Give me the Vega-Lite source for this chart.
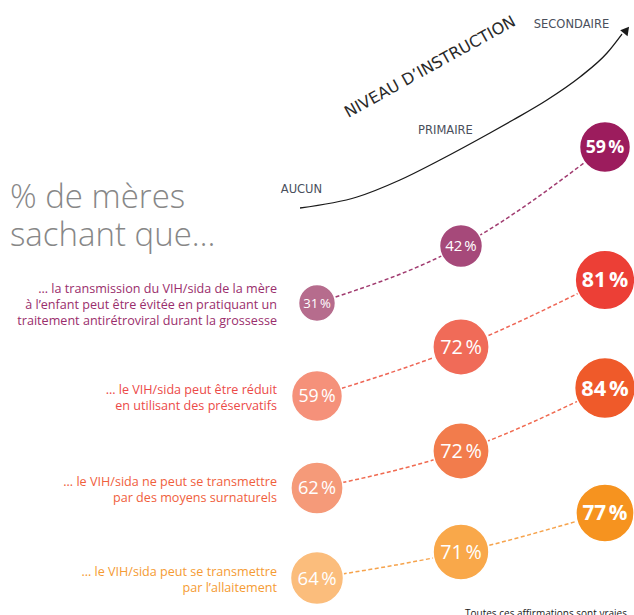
{
  "$schema": "https://vega.github.io/schema/vega-lite/v6.json",
  "width": 634,
  "height": 615,
  "padding": 0,
  "autosize": {"type": "none"},
  "background": "white",
  "config": {"view": {"stroke": null}},
  "datasets": {
    "meres": [
      {"rang": 1, "niveau": "Aucun", "n": 0, "pct": 31, "hauteur": 312, "cle": "1-Aucun", "enonce": "… la transmission du VIH/sida de la mère\nà l’enfant peut être évitée en pratiquant un\ntraitement antirétroviral durant la grossesse"},
      {"rang": 1, "niveau": "Primaire", "n": 1, "pct": 42, "hauteur": 369, "cle": "1-Primaire", "enonce": "… la transmission du VIH/sida de la mère\nà l’enfant peut être évitée en pratiquant un\ntraitement antirétroviral durant la grossesse"},
      {"rang": 1, "niveau": "Secondaire", "n": 2, "pct": 59, "hauteur": 468, "cle": "1-Secondaire", "enonce": "… la transmission du VIH/sida de la mère\nà l’enfant peut être évitée en pratiquant un\ntraitement antirétroviral durant la grossesse"},
      {"rang": 2, "niveau": "Aucun", "n": 0, "pct": 59, "hauteur": 219, "cle": "2-Aucun", "enonce": "… le VIH/sida peut être réduit\nen utilisant des préservatifs"},
      {"rang": 2, "niveau": "Primaire", "n": 1, "pct": 72, "hauteur": 268, "cle": "2-Primaire", "enonce": "… le VIH/sida peut être réduit\nen utilisant des préservatifs"},
      {"rang": 2, "niveau": "Secondaire", "n": 2, "pct": 81, "hauteur": 335, "cle": "2-Secondaire", "enonce": "… le VIH/sida peut être réduit\nen utilisant des préservatifs"},
      {"rang": 3, "niveau": "Aucun", "n": 0, "pct": 62, "hauteur": 127, "cle": "3-Aucun", "enonce": "… le VIH/sida ne peut se transmettre\npar des moyens surnaturels"},
      {"rang": 3, "niveau": "Primaire", "n": 1, "pct": 72, "hauteur": 164, "cle": "3-Primaire", "enonce": "… le VIH/sida ne peut se transmettre\npar des moyens surnaturels"},
      {"rang": 3, "niveau": "Secondaire", "n": 2, "pct": 84, "hauteur": 227, "cle": "3-Secondaire", "enonce": "… le VIH/sida ne peut se transmettre\npar des moyens surnaturels"},
      {"rang": 4, "niveau": "Aucun", "n": 0, "pct": 64, "hauteur": 37, "cle": "4-Aucun", "enonce": "… le VIH/sida peut se transmettre\npar l’allaitement"},
      {"rang": 4, "niveau": "Primaire", "n": 1, "pct": 71, "hauteur": 63, "cle": "4-Primaire", "enonce": "… le VIH/sida peut se transmettre\npar l’allaitement"},
      {"rang": 4, "niveau": "Secondaire", "n": 2, "pct": 77, "hauteur": 102, "cle": "4-Secondaire", "enonce": "… le VIH/sida peut se transmettre\npar l’allaitement"}
    ],
    "fleche": [
      {"ordre": 1, "n": -0.118, "hauteur": 407},
      {"ordre": 2, "n": 0.278, "hauteur": 418},
      {"ordre": 3, "n": 0.576, "hauteur": 435},
      {"ordre": 4, "n": 0.854, "hauteur": 455},
      {"ordre": 5, "n": 1.201, "hauteur": 482},
      {"ordre": 6, "n": 1.361, "hauteur": 495},
      {"ordre": 7, "n": 1.597, "hauteur": 515},
      {"ordre": 8, "n": 1.826, "hauteur": 538},
      {"ordre": 9, "n": 2.014, "hauteur": 562},
      {"ordre": 10, "n": 2.118, "hauteur": 581}
    ]
  },
  "layer": [
    {
      "data": {"name": "fleche"},
      "mark": {"type": "line", "color": "#1a1a1a", "strokeWidth": 1.3, "interpolate": "monotone"},
      "encoding": {
        "x": {"field": "n", "type": "quantitative", "scale": {"domain": [-2.2014, 2.2014], "nice": false, "zero": false}, "axis": null},
        "y": {"field": "hauteur", "type": "quantitative", "scale": {"domain": [0, 615], "nice": false, "zero": false}, "axis": null},
        "order": {"field": "ordre", "type": "quantitative"}
      }
    },
    {
      "data": {"values": [{"fin": "flèche"}]},
      "mark": {"type": "point", "shape": "triangle-up", "filled": true, "color": "#1a1a1a", "size": 90, "angle": 39, "opacity": 1},
      "encoding": {"x": {"datum": 2.149, "type": "quantitative"}, "y": {"datum": 585, "type": "quantitative"}}
    },
    {
      "data": {"values": [{"t": "AUCUN"}]},
      "mark": {"type": "text", "font": "DejaVu Sans", "fontSize": 11.5, "color": "#4a4f5c", "align": "center", "baseline": "middle"},
      "encoding": {"x": {"datum": -0.108, "type": "quantitative"}, "y": {"datum": 425, "type": "quantitative"}, "text": {"field": "t"}}
    },
    {
      "data": {"values": [{"t": "PRIMAIRE"}]},
      "mark": {"type": "text", "font": "DejaVu Sans", "fontSize": 11.5, "color": "#4a4f5c", "align": "center", "baseline": "middle"},
      "encoding": {"x": {"datum": 0.892, "type": "quantitative"}, "y": {"datum": 484, "type": "quantitative"}, "text": {"field": "t"}}
    },
    {
      "data": {"values": [{"t": "SECONDAIRE"}]},
      "mark": {"type": "text", "font": "DejaVu Sans", "fontSize": 11.5, "color": "#4a4f5c", "align": "center", "baseline": "middle"},
      "encoding": {"x": {"datum": 1.767, "type": "quantitative"}, "y": {"datum": 590, "type": "quantitative"}, "text": {"field": "t"}}
    },
    {
      "data": {"values": [{"t": "NIVEAU D’INSTRUCTION"}]},
      "mark": {"type": "text", "font": "DejaVu Sans", "fontSize": 16, "color": "#2a2a2a", "align": "center", "baseline": "middle", "angle": 331},
      "encoding": {"x": {"datum": 0.785, "type": "quantitative"}, "y": {"datum": 548, "type": "quantitative"}, "text": {"field": "t"}}
    },
    {
      "data": {"values": [{"t": "titre"}]},
      "mark": {"type": "text", "font": "Open Sans", "fontWeight": 300, "fontSize": 33, "color": "#878787", "align": "left", "baseline": "alphabetic", "lineHeight": 38, "text": ["% de mères", "sachant que…"]},
      "encoding": {"x": {"datum": -2.132, "type": "quantitative"}, "y": {"datum": 407, "type": "quantitative"}}
    },
    {
      "data": {"values": [{"t": "Toutes ces affirmations sont vraies."}]},
      "mark": {"type": "text", "font": "Open Sans", "fontSize": 10, "color": "#222222", "align": "left", "baseline": "alphabetic"},
      "encoding": {"x": {"datum": 1.028, "type": "quantitative"}, "y": {"datum": -2, "type": "quantitative"}, "text": {"field": "t"}}
    },
    {
      "data": {"name": "meres"},
      "mark": {"type": "line", "strokeWidth": 1.5, "strokeDash": [4, 2.5], "interpolate": "monotone"},
      "encoding": {
        "x": {"field": "n", "type": "quantitative"},
        "y": {"field": "hauteur", "type": "quantitative"},
        "detail": {"field": "rang", "type": "nominal"},
        "order": {"field": "n", "type": "quantitative"},
        "stroke": {"field": "rang", "type": "nominal", "legend": null, "scale": {"domain": [1, 2, 3, 4], "range": ["#a13c70", "#ee6656", "#f06a50", "#f6a34c"]}}
      }
    },
    {
      "data": {"name": "meres"},
      "mark": {"type": "circle", "opacity": 1, "stroke": "white", "strokeWidth": 1.5},
      "encoding": {
        "x": {"field": "n", "type": "quantitative"},
        "y": {"field": "hauteur", "type": "quantitative"},
        "size": {"field": "pct", "type": "quantitative", "legend": null, "scale": {"domain": [0, 100], "range": [0, 4400], "zero": true}},
        "fill": {"field": "cle", "type": "nominal", "legend": null, "scale": {
          "domain": ["1-Aucun", "1-Primaire", "1-Secondaire", "2-Aucun", "2-Primaire", "2-Secondaire", "3-Aucun", "3-Primaire", "3-Secondaire", "4-Aucun", "4-Primaire", "4-Secondaire"],
          "range": ["#b66c8d", "#a6497a", "#9c1c5d", "#f5917a", "#f06b58", "#ec3f36", "#f59a79", "#f27c4c", "#ef5a2a", "#fbbd7c", "#f9a84a", "#f6931f"]}}
      }
    },
    {
      "data": {"name": "meres"},
      "transform": [{"filter": "datum.n < 2"}, {"calculate": "datum.pct + '\u202f%'", "as": "etiquette"}],
      "mark": {"type": "text", "font": "Open Sans", "color": "white", "align": "center", "baseline": "middle", "dy": 1},
      "encoding": {
        "x": {"field": "n", "type": "quantitative"},
        "y": {"field": "hauteur", "type": "quantitative"},
        "text": {"field": "etiquette"},
        "size": {"field": "pct", "type": "quantitative", "legend": null, "scale": {"domain": [30, 85], "range": [13, 22]}}
      }
    },
    {
      "data": {"name": "meres"},
      "transform": [{"filter": "datum.n == 2"}, {"calculate": "datum.pct + '\u202f%'", "as": "etiquette"}],
      "mark": {"type": "text", "font": "Open Sans", "fontWeight": "bold", "color": "white", "align": "center", "baseline": "middle", "dy": 1},
      "encoding": {
        "x": {"field": "n", "type": "quantitative"},
        "y": {"field": "hauteur", "type": "quantitative"},
        "text": {"field": "etiquette"},
        "size": {"field": "pct", "type": "quantitative", "legend": null, "scale": {"domain": [30, 85], "range": [13, 22]}}
      }
    },
    {
      "data": {"name": "meres"},
      "transform": [{"filter": "datum.n == 0 && datum.rang == 1"}],
      "mark": {"type": "text", "font": "Open Sans", "fontSize": 12.6, "align": "right", "baseline": "middle", "dx": -40, "dy": -14, "lineHeight": 16, "lineBreak": "\n"},
      "encoding": {
        "x": {"field": "n", "type": "quantitative"},
        "y": {"field": "hauteur", "type": "quantitative"},
        "text": {"field": "enonce"},
        "fill": {"field": "rang", "type": "nominal", "legend": null, "scale": {"domain": [1, 2, 3, 4], "range": ["#9a2e6c", "#ec4a48", "#f0603c", "#f59b33"]}}
      }
    },
    {
      "data": {"name": "meres"},
      "transform": [{"filter": "datum.n == 0 && datum.rang > 1"}],
      "mark": {"type": "text", "font": "Open Sans", "fontSize": 12.6, "align": "right", "baseline": "middle", "dx": -40, "dy": -6, "lineHeight": 16, "lineBreak": "\n"},
      "encoding": {
        "x": {"field": "n", "type": "quantitative"},
        "y": {"field": "hauteur", "type": "quantitative"},
        "text": {"field": "enonce"},
        "fill": {"field": "rang", "type": "nominal", "legend": null, "scale": {"domain": [1, 2, 3, 4], "range": ["#9a2e6c", "#ec4a48", "#f0603c", "#f59b33"]}}
      }
    }
  ],
  "resolve": {"scale": {"fill": "independent", "size": "independent", "stroke": "independent"}}
}
